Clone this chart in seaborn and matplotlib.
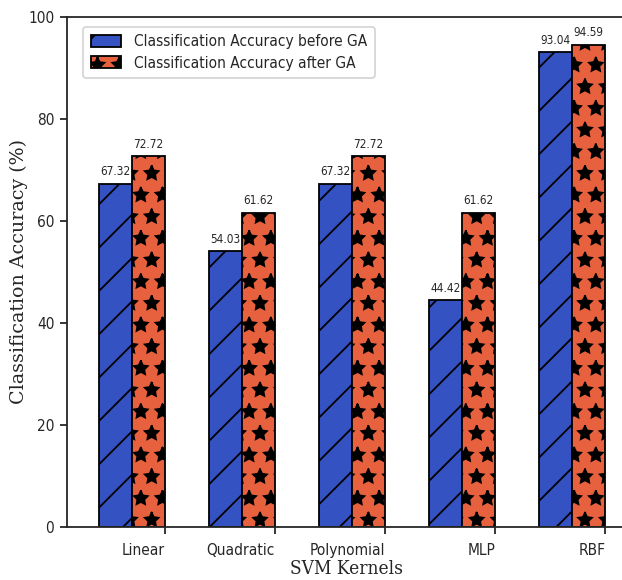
import numpy as np
import pandas as pd
import seaborn as sns
import matplotlib.pyplot as plt

kernels = ['Linear', 'Quadratic', 'Polynomial', 'MLP', 'RBF']
before_ga = [67.32, 54.03, 67.32, 44.42, 93.04]
after_ga = [72.72, 61.62, 72.72, 61.62, 94.59]
series = ['Classification Accuracy before GA', 'Classification Accuracy after GA']

df = pd.DataFrame({
    'kernel': kernels * 2,
    'acc': before_ga + after_ga,
    'series': [series[0]] * len(kernels) + [series[1]] * len(kernels),
})

sns.set_style('ticks')
plt.rcParams['font.family'] = ['DejaVu Sans']
plt.rcParams['font.stretch'] = 'condensed'
plt.rcParams['hatch.linewidth'] = 1.0

dpi = 130
fig = plt.figure(figsize=(622 / dpi, 580 / dpi), dpi=dpi)
ax = fig.add_axes([67 / 622, 53 / 580, 558 / 622, 510 / 580])

sns.barplot(data=df, x='kernel', y='acc', hue='series',
            palette=['#3452c2', '#e8613f'], width=0.6, saturation=1,
            edgecolor='black', linewidth=1.0, ax=ax)

hatches = ['/', '*']
for cont, h in zip(ax.containers, hatches):
    for p in cont:
        p.set_hatch(h)
    ax.bar_label(cont, fmt='%.2f', padding=3, fontsize=6.5)

ax.set_xticks(np.arange(len(kernels)) + 0.3, kernels, ha='right')
ax.set_xlim(-0.59, 4.48)
ax.set_ylim(0, 100)
ax.set_yticks(range(0, 101, 20))
ax.tick_params(labelsize=8.5, width=1, length=4, pad=3)
ax.tick_params(axis='x', pad=5)
ax.spines['right'].set_visible(False)
for s in ['left', 'bottom', 'top']:
    ax.spines[s].set_linewidth(1.0)

ax.set_xlabel('SVM Kernels', family='DejaVu Serif', fontsize=10.5, labelpad=1)
ax.set_ylabel('Classification Accuracy (%)', family='DejaVu Serif',
              fontstretch='normal', fontsize=10.5)
ax.yaxis.set_label_coords(-0.07, 0.5)

leg = ax.legend(loc='upper left', bbox_to_anchor=(0.015, 0.996), fontsize=8.5,
                frameon=True, handlelength=2.0, handleheight=0.8,
                borderpad=0.5, labelspacing=0.4)
for hnd, h in zip(leg.legend_handles, hatches):
    hnd.set_hatch(h)

fig.savefig('out.png', dpi=dpi)
